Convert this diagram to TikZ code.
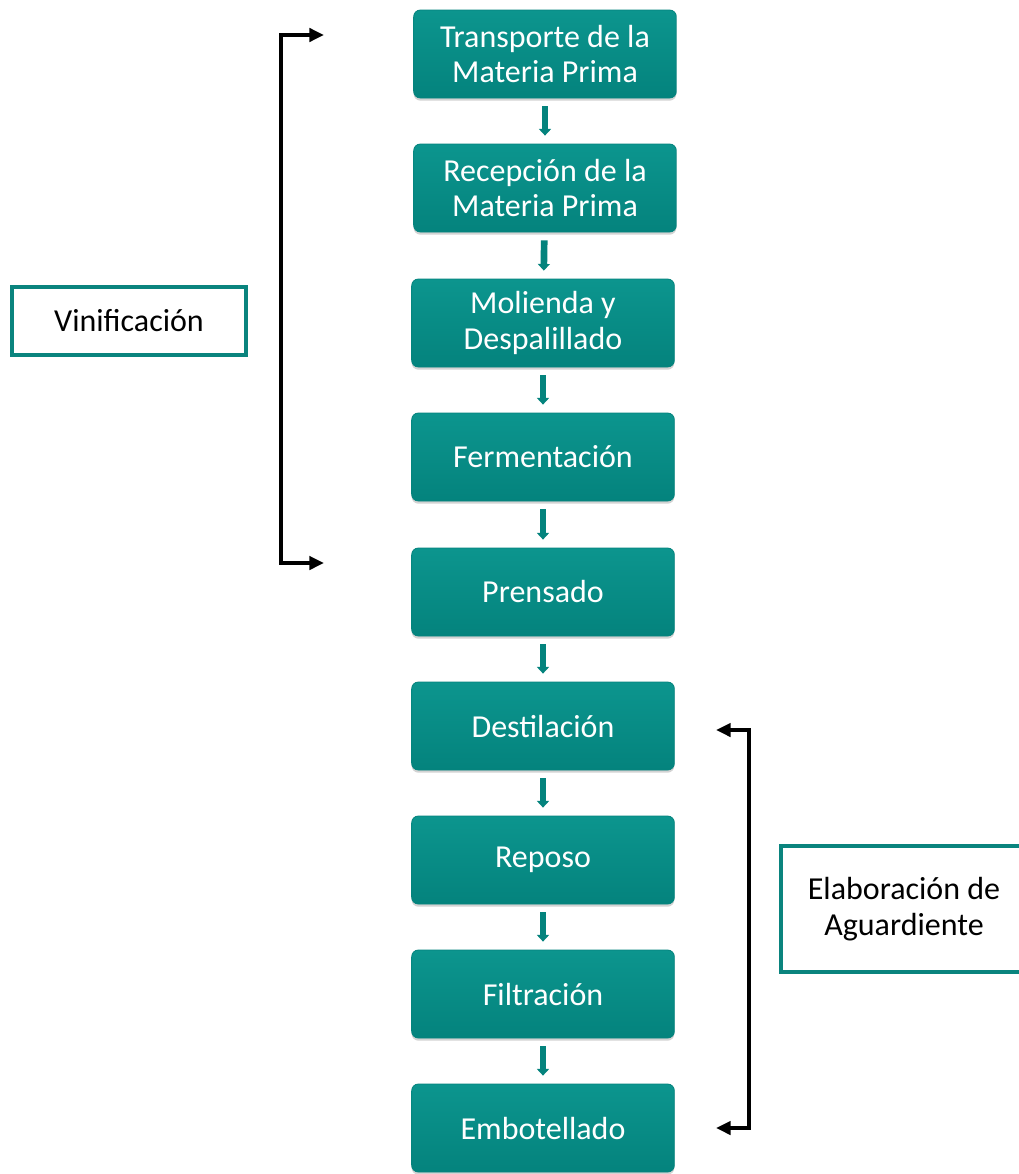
\documentclass[tikz,border=0pt]{standalone}
\usepackage{fontspec}
\setmainfont{Carlito}
\usepackage{xcolor}
\usetikzlibrary{arrows.meta,shadows}

\definecolor{tealbox}{RGB}{4,138,132}
\definecolor{tealtop}{RGB}{12,149,142}
\definecolor{tealbot}{RGB}{4,131,125}
\definecolor{tealline}{RGB}{10,132,126}

\tikzset{
  stepbox/.style={rounded corners=5pt, draw=tealbot, line width=0.6pt,
    top color=tealtop, bottom color=tealbot, text=white,
    minimum width=197pt, minimum height=66pt, align=center,
    font=\fontsize{24}{26.5}\selectfont,
    drop shadow={shadow xshift=0pt, shadow yshift=-2pt, opacity=0.35}},
  phasebox/.style={draw=tealline, line width=3pt, fill=white, align=center,
    font=\fontsize{24}{26.5}\selectfont, inner sep=0pt},
  flowarrow/.style={draw=tealbot, line width=5pt, shorten <=6pt, shorten >=6pt,
    -{Triangle[length=5pt,width=9pt]}},
  bracketarrow/.style={line width=2.6pt, line join=miter,
    {Triangle[length=11pt,width=10pt]}-{Triangle[length=11pt,width=10pt]}}
}

\begin{document}
\begin{tikzpicture}[x=0.75pt,y=-0.75pt]
  \useasboundingbox (0,0) rectangle (1019,1174);

  % process steps
  \node[stepbox] (transporte) at (545,54) {Transporte de la\\Materia Prima};
  \node[stepbox] (recepcion) at (545,188) {Recepción de la\\Materia Prima};
  \node[stepbox] (molienda) at (543,323) {Molienda y\\Despalillado};
  \node[stepbox] (fermentacion) at (543,457) {Fermentación};
  \node[stepbox] (prensado) at (543,592) {Prensado};
  \node[stepbox] (destilacion) at (543,726) {Destilación};
  \node[stepbox] (reposo) at (543,860) {Reposo};
  \node[stepbox] (filtracion) at (543,994) {Filtración};
  \node[stepbox] (embotellado) at (543,1128) {Embotellado};

  % small arrows between steps
  \draw[flowarrow] (transporte) -- (recepcion);
  \draw[flowarrow] (recepcion) -- (molienda);
  \draw[flowarrow] (molienda) -- (fermentacion);
  \draw[flowarrow] (fermentacion) -- (prensado);
  \draw[flowarrow] (prensado) -- (destilacion);
  \draw[flowarrow] (destilacion) -- (reposo);
  \draw[flowarrow] (reposo) -- (filtracion);
  \draw[flowarrow] (filtracion) -- (embotellado);

  % phases
  \node[phasebox, minimum width=175pt, minimum height=51pt] (vinificacion) at (129,321) {Vinificación};
  \node[phasebox, minimum width=184pt, minimum height=95pt] (elaboracion) at (904,909) {Elaboración de\\Aguardiente};

  \coordinate (vintop) at (324,35);
  \coordinate (vinbot) at (324,563);
  \draw[bracketarrow] (vintop) -- ++(-43,0) |- (vinbot);

  \coordinate (elatop) at (716,730);
  \coordinate (elabot) at (716,1128);
  \draw[bracketarrow] (elatop) -- ++(33,0) |- (elabot);
\end{tikzpicture}
\end{document}
